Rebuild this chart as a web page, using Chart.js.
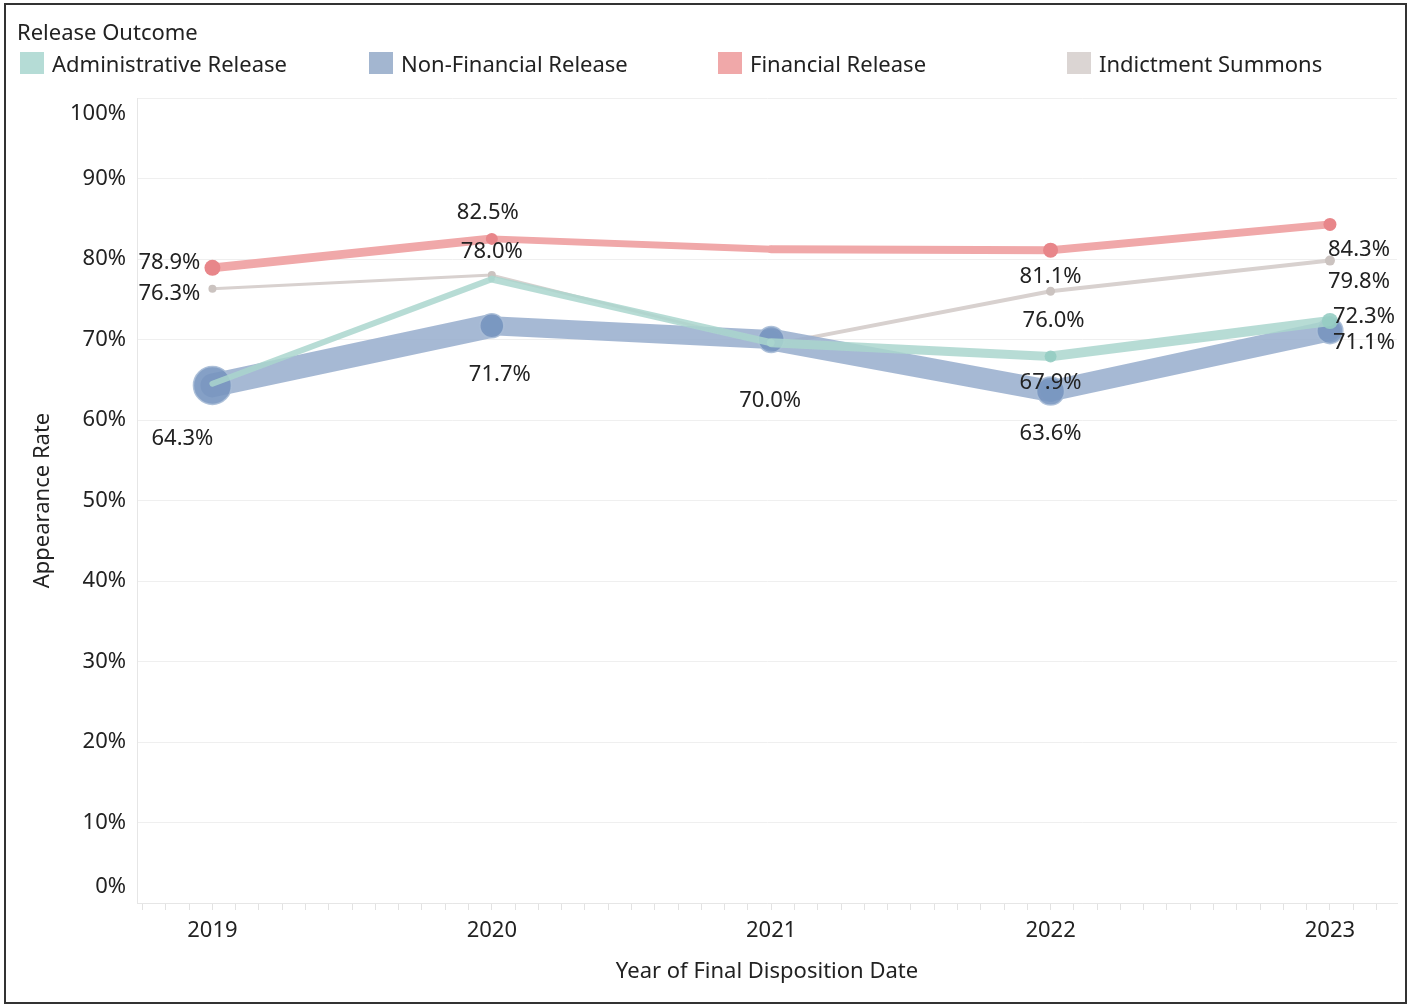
<!DOCTYPE html>
<html>
<head>
<meta charset="utf-8">
<title>Appearance Rate by Release Outcome</title>
<script src="https://cdn.jsdelivr.net/npm/chart.js@4.4.1/dist/chart.umd.min.js"></script>
<style>
  html, body { margin: 0; padding: 0; background: #fff; overflow: hidden; }
  #wrap { position: relative; width: 1411px; height: 1005px; overflow: hidden; font-family: 'Noto Sans', sans-serif; color: #222; }
  #frame { position: absolute; left: 4px; top: 3px; width: 1399px; height: 997px; border: 2px solid #333; pointer-events: none; }
  #legendTitle { position: absolute; left: 17px; top: 16px; font-size: 22px; }
  #legend { position: absolute; left: 20px; top: 48px; width: 1370px; display: flex; }
  .item { width: 349px; flex: none; display: flex; align-items: center; font-size: 22px; white-space: nowrap; }
  .item:last-child { width: auto; }
  .swatch { width: 24px; height: 22px; margin-right: 8px; }
  canvas { position: absolute; left: 0; top: 0; }
</style>
</head>
<body>
<div id="wrap">
  <canvas id="chart" width="1411" height="1005"></canvas>
  <div id="legendTitle">Release Outcome</div>
  <div id="legend"></div>
  <div id="frame"></div>
</div>
<script>
// Values (appearance rate, %)
const years = [2019, 2020, 2021, 2022, 2023];
const adminRate = [64.5, 77.5, 69.6, 67.9, 72.3];
const nonFinancialRate = [64.3, 71.7, 70.0, 63.6, 71.1];
const financialRate = [78.9, 82.5, 81.2, 81.1, 84.3];
const indictmentRate = [76.3, 78.0, 69.3, 76.0, 79.8];

const seriesNames = ['Administrative Release', 'Non-Financial Release', 'Financial Release', 'Indictment Summons'];
const swatchColors = ['#b5dcd6', '#a3b6d0', '#f0a8a9', '#dbd5d3'];

const toPoints = vals => vals.map((v, i) => ({ x: years[i], y: v }));

function makeSeries(label, vals, opts) {
    return {
        label: label,
        data: toPoints(vals),
        borderColor: opts.line,
        backgroundColor: opts.point,
        pointBackgroundColor: opts.point,
        pointBorderColor: opts.ring || opts.point,
        pointBorderWidth: opts.ring ? 1.5 : 0,
        pointRadius: opts.radius,
        pointHoverRadius: opts.radius,
        borderCapStyle: 'round',
        borderJoinStyle: 'round',
        segment: { borderWidth: ctx => opts.widths[ctx.p0DataIndex] },
        order: opts.order,
        labelOffsets: opts.labelOffsets
    };
}

const datasets = [
    makeSeries(seriesNames[0], adminRate, {
        line: 'rgba(170, 214, 206, 0.85)', point: 'rgba(150, 205, 195, 0.9)',
        radius: [0, 0, 0, 6, 8], widths: [6, 7, 9, 10], order: 1,
        labelOffsets: [null, null, null, [0, 26], [34, -4]]
    }),
    makeSeries(seriesNames[1], nonFinancialRate, {
        line: 'rgba(150, 173, 204, 0.85)', point: 'rgba(120, 150, 192, 0.9)',
        ring: 'rgba(170, 190, 215, 0.9)',
        radius: [19, 12, 13, 14, 13], widths: [24, 19, 22, 21], order: 2,
        labelOffsets: [[-30, 53], [8, 49], [-1, 61], [0, 43], [34, 12]]
    }),
    makeSeries(seriesNames[2], financialRate, {
        line: '#f0a8a9', point: '#e8868a',
        radius: [8, 6, 0, 7.5, 6.5], widths: [9, 7, 8, 8], order: 4,
        labelOffsets: [[-43, -5], [-4, -26], null, [0, 27], [29, 25]]
    }),
    makeSeries(seriesNames[3], indictmentRate, {
        line: '#d8d1cf', point: '#cbc3c0',
        radius: [4, 4, 0, 4.5, 5], widths: [3, 3, 4, 4], order: 3,
        labelOffsets: [[-43, 5], [0, -23], null, [3, 30], [29, 21]]
    })
];

// HTML legend
const legendEl = document.getElementById('legend');
seriesNames.forEach((name, i) => {
    const item = document.createElement('div');
    item.className = 'item';
    item.innerHTML = '<span class="swatch" style="background:' + swatchColors[i] + '"></span>' + name;
    legendEl.appendChild(item);
});

// Value labels drawn on top of the lines
const valueLabels = {
    id: 'valueLabels',
    afterDatasetsDraw(chart) {
        const ctx = chart.ctx;
        ctx.save();
        ctx.font = '22px "Noto Sans"';
        ctx.fillStyle = '#222';
        ctx.textAlign = 'center';
        ctx.textBaseline = 'middle';
        chart.data.datasets.forEach((ds, i) => {
            const meta = chart.getDatasetMeta(i);
            ds.labelOffsets.forEach((off, j) => {
                if (!off) return;
                const pt = meta.data[j];
                ctx.fillText(ds.data[j].y.toFixed(1) + '%', pt.x + off[0], pt.y + off[1]);
            });
        });
        ctx.restore();
    }
};

new Chart(document.getElementById('chart'), {
    type: 'line',
    data: { datasets: datasets },
    options: {
        responsive: false,
        animation: false,
        layout: { autoPadding: false, padding: { left: 8, right: 14, top: 98, bottom: 5 } },
        plugins: {
            legend: { display: false },
            tooltip: { enabled: false }
        },
        scales: {
            x: {
                type: 'linear',
                min: 2018.73,
                max: 2023.24,
                afterBuildTicks: scale => {
                    // monthly minor ticks, labels only on whole years
                    const t = [];
                    for (let m = Math.ceil(scale.min * 12); m <= scale.max * 12; m++) t.push({ value: m / 12 });
                    scale.ticks = t;
                },
                ticks: {
                    autoSkip: false,
                    maxRotation: 0,
                    padding: 8,
                    color: '#222',
                    font: { family: 'Noto Sans', size: 22 },
                    callback: v => Math.abs(v - Math.round(v)) < 1e-6 ? String(Math.round(v)) : ''
                },
                grid: { drawOnChartArea: false, tickLength: 7, color: '#e2e2e2' },
                border: { color: '#e6e6e6' },
                title: {
                    display: true,
                    text: 'Year of Final Disposition Date',
                    color: '#222',
                    font: { family: 'Noto Sans', size: 22 },
                    padding: { top: 0, bottom: 15 }
                },
                afterFit: scale => { scale.height = 97; }
            },
            y: {
                min: 0,
                max: 100,
                ticks: {
                    stepSize: 10,
                    padding: 11,
                    color: '#222',
                    font: { family: 'Noto Sans', size: 22, lineHeight: 1.45 },
                    callback: v => v === 100 ? ['', '100%'] : v === 0 ? ['0%', ''] : v + '%'
                },
                grid: { color: '#efefef', drawTicks: false },
                border: { color: '#e6e6e6' },
                title: {
                    display: true,
                    text: 'Appearance Rate',
                    color: '#222',
                    font: { family: 'Noto Sans', size: 22 },
                    padding: { top: 22, bottom: 0 }
                },
                afterFit: scale => { scale.width = 129; }
            }
        }
    },
    plugins: [valueLabels]
});
</script>
</body>
</html>
